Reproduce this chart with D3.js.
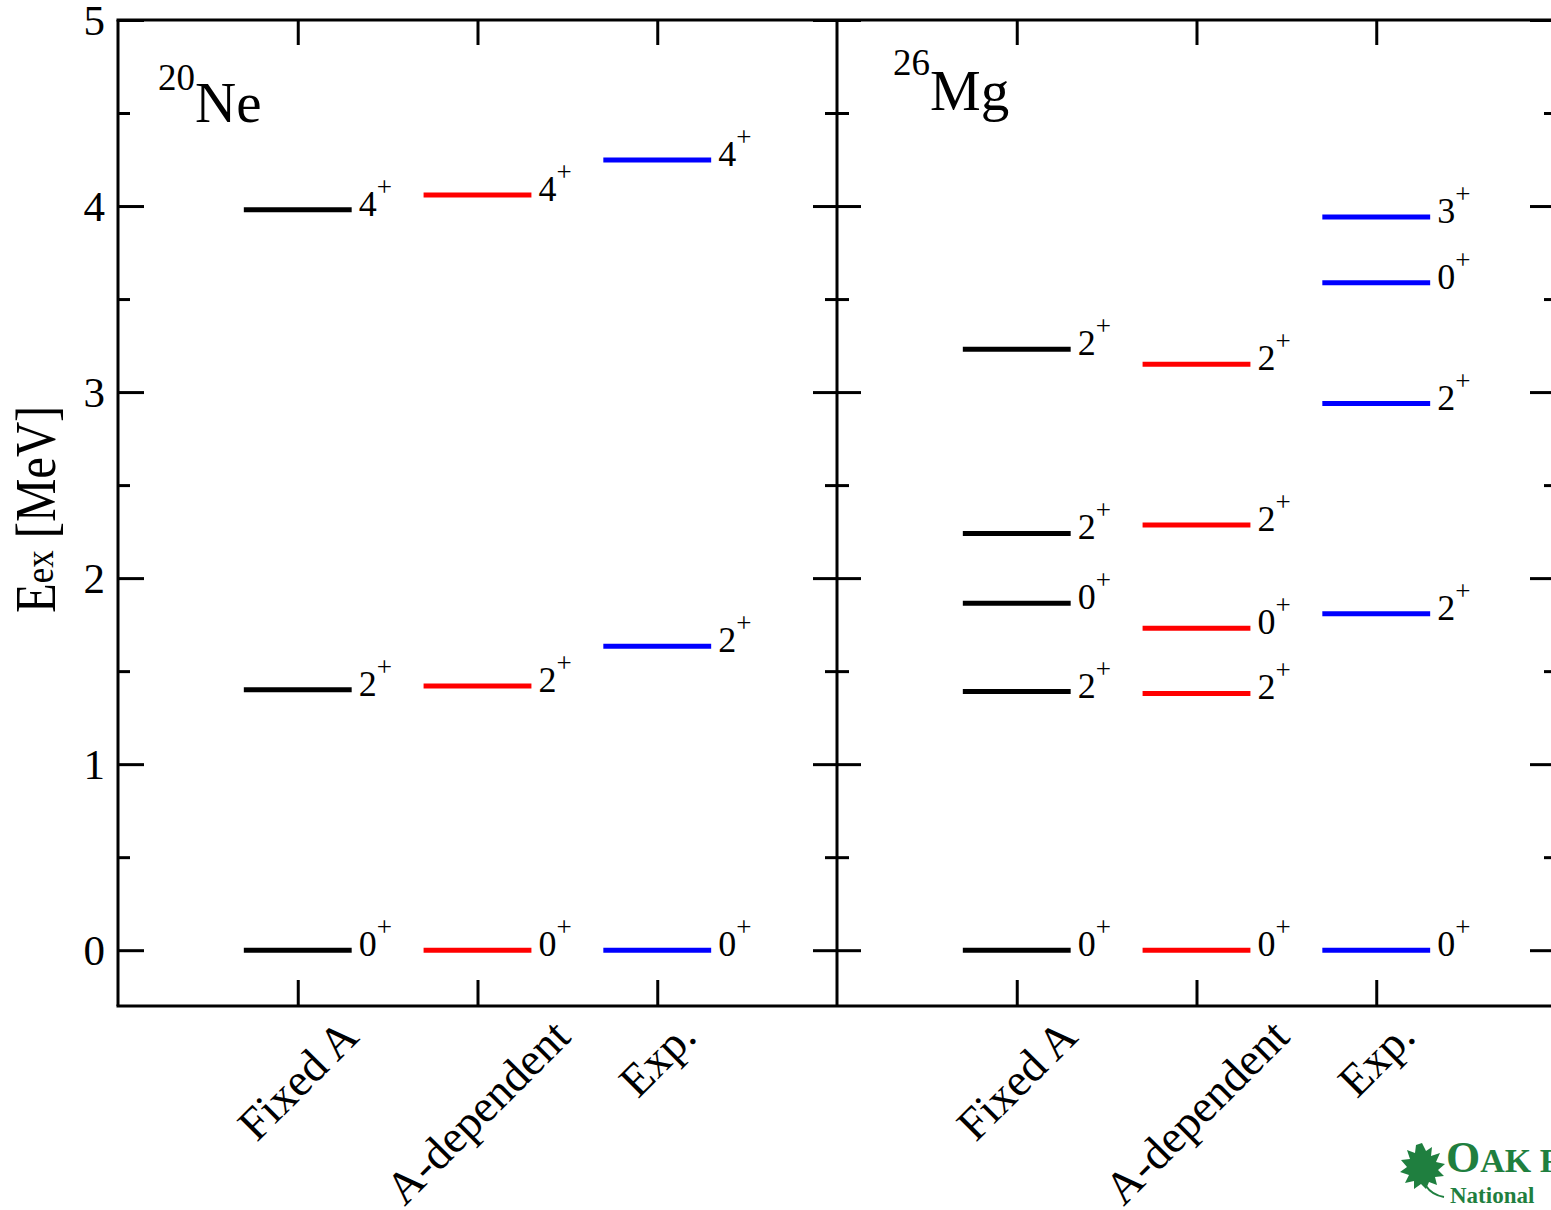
<!DOCTYPE html>
<html>
<head>
<meta charset="utf-8">
<script src="https://cdn.jsdelivr.net/npm/d3@7"></script>
<style>
  html, body { margin: 0; padding: 0; background: #fff; }
  svg { display: block; font-family: "Liberation Serif", "Times New Roman", serif; }
</style>
</head>
<body>
<svg id="chart" width="1551" height="1210"></svg>
<script>
// ---------------- data ----------------
const categories = ["Fixed A", "A-dependent", "Exp."];
const categoryColors = ["#000000", "#ff0000", "#0000ff"];
const nuclei = [{ mass: "20", symbol: "Ne" }, { mass: "26", symbol: "Mg" }];

// 20Ne levels (MeV) and spins
const ne20FixedA = [0.0, 1.40, 3.98];
const ne20FixedASpins = ["0", "2", "4"];
const ne20ADep = [0.0, 1.42, 4.06];
const ne20ADepSpins = ["0", "2", "4"];
const ne20Exp = [0.0, 1.634, 4.248];
const ne20ExpSpins = ["0", "2", "4"];

// 26Mg levels (MeV) and spins
const mg26FixedA = [0.0, 1.39, 1.865, 2.24, 3.23];
const mg26FixedASpins = ["0", "2", "0", "2", "2"];
const mg26ADep = [0.0, 1.38, 1.73, 2.285, 3.15];
const mg26ADepSpins = ["0", "2", "0", "2", "2"];
const mg26Exp = [0.0, 1.809, 2.938, 3.588, 3.941];
const mg26ExpSpins = ["0", "2", "2", "0", "3"];

const yMajorTicks = [0, 1, 2, 3, 4, 5];
const yMinorTicks = [0.5, 1.5, 2.5, 3.5, 4.5];
const yLabel = { main: "E", sub: "ex", unit: "[MeV]" };

(function () {
// ---------------- build ----------------
const panelsData = [
  [
    { values: ne20FixedA, spins: ne20FixedASpins },
    { values: ne20ADep, spins: ne20ADepSpins },
    { values: ne20Exp, spins: ne20ExpSpins }
  ],
  [
    { values: mg26FixedA, spins: mg26FixedASpins },
    { values: mg26ADep, spins: mg26ADepSpins },
    { values: mg26Exp, spins: mg26ExpSpins }
  ]
];

const svg = d3.select("#chart");
const pLeft = 118, pMid = 837, pRight = 1556, pTop = 20, pBottom = 1006;
const y = d3.scaleLinear().domain([-0.3, 5]).range([pBottom, pTop]);
const xScales = [
  d3.scaleLinear().domain([0, 4]).range([pLeft, pMid]),
  d3.scaleLinear().domain([0, 4]).range([pMid, pRight])
];
const AXW = 3;

function styleAxis(g) {
  g.select(".domain").remove();
  g.selectAll(".tick line").attr("stroke-width", AXW).attr("stroke", "#000");
}

function yTicks(x, dir, major, minor) {
  const gen = dir === "right" ? d3.axisRight : d3.axisLeft;
  svg.append("g").attr("transform", `translate(${x},0)`)
    .call(gen(y).tickValues(yMajorTicks).tickSize(major).tickFormat(""))
    .call(styleAxis);
  svg.append("g").attr("transform", `translate(${x},0)`)
    .call(gen(y).tickValues(yMinorTicks).tickSize(minor).tickFormat(""))
    .call(styleAxis);
}
yTicks(pLeft, "right", 26, 12);
yTicks(pMid, "left", 24, 12);
yTicks(pMid, "right", 24, 12);
yTicks(pRight, "left", 26, 12);

svg.append("g").attr("transform", `translate(${pLeft},0)`)
  .call(d3.axisLeft(y).tickValues(yMajorTicks).tickSize(0).tickPadding(13).tickFormat(d3.format("d")))
  .call(g => g.select(".domain").remove())
  .call(g => g.attr("font-family", null).selectAll("text")
    .attr("font-family", "Liberation Serif, serif")
    .attr("font-size", 43).attr("fill", "#000").attr("dy", "0.34em"));

xScales.forEach(xs => {
  svg.append("g").attr("transform", `translate(0,${pTop})`)
    .call(d3.axisBottom(xs).tickValues([1, 2, 3]).tickSize(25).tickFormat(""))
    .call(styleAxis);
  svg.append("g").attr("transform", `translate(0,${pBottom})`)
    .call(d3.axisTop(xs).tickValues([1, 2, 3]).tickSize(26).tickFormat(""))
    .call(styleAxis);
});

const frame = svg.append("g").attr("stroke", "#000").attr("stroke-width", AXW).attr("fill", "none");
frame.append("line").attr("x1", pLeft - 1.5).attr("x2", pRight).attr("y1", pTop).attr("y2", pTop);
frame.append("line").attr("x1", pLeft - 1.5).attr("x2", pRight).attr("y1", pBottom).attr("y2", pBottom);
[pLeft, pMid, pRight].forEach(xx =>
  frame.append("line").attr("x1", xx).attr("x2", xx).attr("y1", pTop).attr("y2", pBottom));

panelsData.forEach((panel, p) => {
  const xs = xScales[p];
  panel.forEach((series, c) => {
    const ci = c + 1;
    const g = svg.append("g");
    g.selectAll("line").data(series.values).join("line")
      .attr("x1", xs(ci - 0.3)).attr("x2", xs(ci + 0.3))
      .attr("y1", d => y(d)).attr("y2", d => y(d))
      .attr("stroke", categoryColors[c]).attr("stroke-width", 5);
    const t = g.selectAll("text").data(series.values).join("text")
      .attr("x", xs(ci + 0.3) + 7).attr("y", d => y(d) + 6)
      .attr("font-size", 36).attr("fill", "#000");
    t.append("tspan").text((d, i) => series.spins[i]);
    t.append("tspan").attr("font-size", 27).attr("dy", -20).text("+");
  });

  categories.forEach((name, c) => {
    const cx = xs(c + 1);
    const txt = svg.append("text")
      .attr("text-anchor", "middle").attr("dominant-baseline", "central")
      .attr("font-size", 46).attr("fill", "#000").text(name);
    const L = txt.node().getComputedTextLength();
    const cy = pBottom + 22 + L * 0.3536;
    txt.attr("transform", `translate(${cx},${cy}) rotate(-45)`);
  });
});

const nucPos = [{ x: 158, ym: 90, ys: 122 }, { x: 893, ym: 75, ys: 110 }];
nuclei.forEach((n, i) => {
  const t = svg.append("text").attr("x", nucPos[i].x).attr("fill", "#000");
  t.append("tspan").attr("y", nucPos[i].ym).attr("font-size", 37).text(n.mass);
  t.append("tspan").attr("y", nucPos[i].ys).attr("font-size", 57).text(n.symbol);
});

const tg = svg.append("g").attr("transform", "translate(55,613) rotate(-90) scale(0.87,1)");
const tt = tg.append("text").attr("x", 0).attr("y", 0).attr("fill", "#000");
tt.append("tspan").attr("font-size", 56).text(yLabel.main);
tt.append("tspan").attr("font-size", 40).attr("dy", -2).text(yLabel.sub);
tt.append("tspan").attr("font-size", 56).attr("dy", 2).text(" " + yLabel.unit);

// ORNL logo (decorative)
const green = "#1f7f3f";
const logo = svg.append("g").attr("fill", green);
logo.append("path")
  .attr("transform", "translate(1398,1142)")
  .attr("d", "M24,1 L28,9 L34,5 L33,14 L42,11 L38,20 L47,22 L40,28 L46,34 L37,35 L39,43 L31,40 L28,47 L23,42 L16,47 L16,39 L7,41 L11,33 L2,30 L9,25 L3,18 L12,17 L9,8 L17,11 L18,3 Z");
logo.append("path")
  .attr("transform", "translate(1398,1142)")
  .attr("fill", "none").attr("stroke", green).attr("stroke-width", 2)
  .attr("d", "M28,44 Q34,53 46,55");
const lt = logo.append("text").attr("x", 1446).attr("y", 1172)
  .attr("font-family", "Liberation Serif, serif").attr("font-weight", "bold");
lt.append("tspan").attr("font-size", 44).text("O");
lt.append("tspan").attr("font-size", 34).text("AK R");
logo.append("text").attr("x", 1450).attr("y", 1203)
  .attr("font-family", "Liberation Serif, serif").attr("font-weight", "bold")
  .attr("font-size", 23).text("National");
})();
</script>
</body>
</html>
